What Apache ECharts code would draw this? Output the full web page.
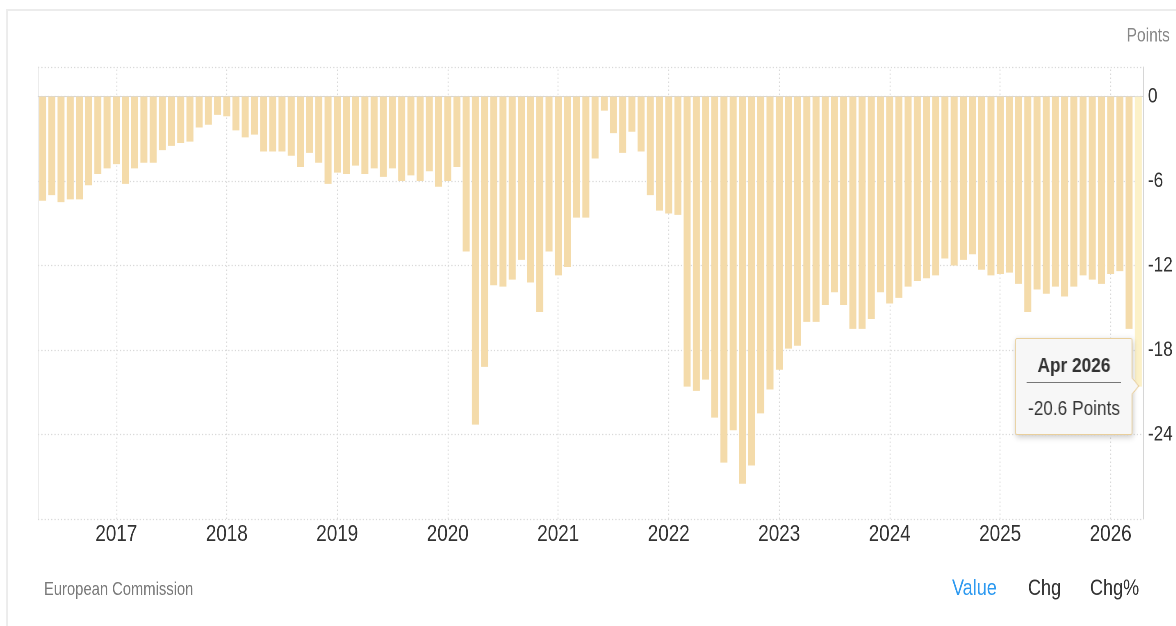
<!DOCTYPE html>
<html>
<head>
<meta charset="utf-8">
<script src="https://cdn.jsdelivr.net/npm/echarts@6/dist/echarts.min.js"></script>
<style>
html,body{margin:0;padding:0;background:#fff;overflow:hidden;width:1176px;height:626px;}
#wrap{width:1176px;height:626px;overflow:hidden;position:relative;}
#chart{position:absolute;left:0;top:0;height:626px;transform-origin:0 0;}
</style>
</head>
<body>
<div id="wrap"><div id="chart"></div></div>
<script>
// ---- data ----
const startYear = 2016;
const startMonth = 5; // May 2016
const values = [
  -7.4, -7.0, -7.5, -7.3, -7.3, -6.3, -5.5, -5.1,
  -4.8, -6.2, -5.1, -4.7, -4.7, -3.8, -3.5, -3.3, -3.2, -2.2, -2.0, -1.3,
  -1.4, -2.4, -2.9, -2.7, -3.9, -3.9, -3.9, -4.2, -5.0, -4.0, -4.7, -6.2,
  -5.4, -5.5, -4.9, -5.5, -5.1, -5.7, -5.1, -6.0, -5.6, -6.0, -5.3, -6.4,
  -6.0, -5.0, -11.0, -23.3, -19.2, -13.4, -13.5, -13.0, -11.6, -13.2, -15.3, -11.0,
  -12.7, -12.1, -8.6, -8.6, -4.4, -1.0, -2.6, -4.0, -2.5, -3.9, -7.0, -8.1,
  -8.3, -8.4, -20.6, -20.9, -20.1, -22.8, -26.0, -23.7, -27.5, -26.2, -22.5, -20.8,
  -19.4, -17.9, -17.7, -16.0, -16.0, -14.8, -13.9, -14.8, -16.5, -16.5, -15.8, -13.9,
  -14.7, -14.3, -13.5, -13.1, -12.9, -12.7, -11.5, -12.0, -11.6, -11.2, -12.3, -12.7,
  -12.6, -12.5, -13.3, -15.3, -13.7, -14.0, -13.5, -14.2, -13.5, -12.7, -13.0, -13.3,
  -12.6, -12.4, -16.5, -20.6
];
const monthNames = ['Jan','Feb','Mar','Apr','May','Jun','Jul','Aug','Sep','Oct','Nov','Dec'];
const yearTicks = ['2017','2018','2019','2020','2021','2022','2023','2024','2025','2026'];
const yTicks = [0, -6, -12, -18, -24];
const unit = 'Points';
const source = 'European Commission';
const tabs = ['Value', 'Chg', 'Chg%'];

const categories = [];
for (let i = 0; i < values.length; i++) {
  const m0 = startMonth - 1 + i;
  const y = startYear + Math.floor(m0 / 12);
  const m = (m0 % 12) + 1;
  categories.push(y + '-' + (m < 10 ? '0' + m : m));
}
const catLabel = c => monthNames[parseInt(c.slice(5), 10) - 1] + ' ' + c.slice(0, 4);

// the reference uses a condensed face: emulate by horizontal compression of the whole chart
const S = 0.82;
const W = 1176 / S;
const hx = x => x / S;

const el = document.getElementById('chart');
el.style.width = W + 'px';
el.style.transform = 'scaleX(' + S + ')';

const FONT = "'Liberation Sans',Arial,Helvetica,sans-serif";
const BAR = '#f4dbaa';
const BAR_HI = '#fcf1c8';
const GRID = '#d9d9d9';
const lastIdx = values.length - 1;

const chart = echarts.init(el, null, { devicePixelRatio: 2 });

const seriesData = values.map((v, i) => i === lastIdx ? { value: v, itemStyle: { color: BAR_HI } } : v);

const option = {
  animation: false,
  textStyle: { fontFamily: FONT },
  grid: { left: hx(38), right: hx(33), top: 67, bottom: 107, containLabel: false, outerBoundsMode: 'none' },
  xAxis: {
    type: 'category',
    data: categories,
    boundaryGap: true,
    axisLine: { show: true, lineStyle: { color: '#d6d6d6', width: 1 } },
    axisTick: { show: false },
    splitLine: { show: false },
    axisLabel: {
      interval: (idx, val) => val.slice(5) === '01' && yearTicks.indexOf(val.slice(0, 4)) >= 0,
      formatter: v => v.slice(0, 4),
      color: '#333',
      fontSize: 23,
      fontFamily: FONT,
      margin: 4
    }
  },
  yAxis: [
    {
      type: 'value',
      position: 'right',
      min: -30,
      max: 2.1,
      interval: 6,
      axisLine: { show: true, lineStyle: { color: '#d6d6d6' } },
      axisTick: { show: false },
      splitLine: { show: true, lineStyle: { color: GRID, type: [1.5, 2.5], width: 1.2 } },
      axisLabel: {
        showMinLabel: false,
        showMaxLabel: false,
        formatter: v => (yTicks.indexOf(v) >= 0 ? String(v) : ''),
        color: '#333',
        fontSize: 21,
        fontFamily: FONT,
        margin: hx(5)
      }
    },
    {
      type: 'value',
      position: 'left',
      min: -30,
      max: 2.1,
      interval: 6,
      axisLine: { show: true, lineStyle: { color: '#e0e0e0' } },
      axisTick: { show: false },
      axisLabel: { show: false },
      splitLine: { show: false }
    }
  ],
  tooltip: {
    trigger: 'item',
    triggerOn: 'none',
    alwaysShowContent: true,
    transitionDuration: 0,
    confine: false,
    backgroundColor: '#f7f7f7',
    borderColor: '#e9cf9c',
    borderWidth: 1,
    padding: 0,
    extraCssText: 'box-shadow:1px 2px 6px rgba(0,0,0,0.22);border-radius:2px;',
    position: function (point, params, dom, rect, size) {
      const p = chart.convertToPixel({ seriesIndex: 0 }, [params.dataIndex, params.value]);
      return [p[0] - hx(6) - size.contentSize[0], p[1] - size.contentSize[1] / 2];
    },
    formatter: function (params) {
      return '<div style="position:relative;width:' + hx(116) + 'px;height:95px;font-family:Liberation Sans,Arial,sans-serif;color:#333;">' +
        '<div style="text-align:center;font-weight:bold;font-size:21px;line-height:22px;padding-top:15px;">' + catLabel(params.name) + '</div>' +
        '<div style="margin:6px ' + hx(11) + 'px 0 ' + hx(11) + 'px;border-top:1px solid #777;height:0;"></div>' +
        '<div style="text-align:center;font-size:21px;line-height:22px;margin-top:14px;">' + params.value.toFixed(1) + ' ' + unit + '</div>' +
        '<div style="position:absolute;right:-7px;top:41px;width:11px;height:11px;background:#f7f7f7;border-top:1px solid #e9cf9c;border-right:1px solid #e9cf9c;transform:rotate(45deg);"></div>' +
        '</div>';
    }
  },
  series: [
    {
      type: 'bar',
      data: seriesData,
      yAxisIndex: 0,
      barCategoryGap: '24%',
      itemStyle: { color: BAR },
      emphasis: { disabled: true },
      markLine: {
        silent: true,
        z: 1,
        symbol: ['none', 'none'],
        label: { show: false },
        lineStyle: { color: GRID, type: [1.5, 2.5], width: 1.2 },
        data: yearTicks.map(y => ({ xAxis: y + '-01' }))
      }
    }
  ],
  graphic: [
    {
      type: 'rect',
      silent: true,
      z: -10,
      shape: { x: hx(7), y: 10, width: W + 100, height: 640 },
      style: { fill: 'none', stroke: '#ececec', lineWidth: 2 }
    },
    {
      type: 'text', right: hx(6), top: 27,
      style: { text: unit, fill: '#888', font: '19px ' + FONT }
    },
    {
      type: 'text', left: hx(44), top: 581,
      style: { text: source, fill: '#7a7a7a', font: '18px ' + FONT }
    },
    {
      type: 'text', left: hx(952), top: 578,
      style: { text: tabs[0], fill: '#2e9af0', font: '22px ' + FONT }
    },
    {
      type: 'text', left: hx(1028), top: 578,
      style: { text: tabs[1], fill: '#333', font: '22px ' + FONT }
    },
    {
      type: 'text', left: hx(1090), top: 578,
      style: { text: tabs[2], fill: '#333', font: '22px ' + FONT }
    }
  ]
};

chart.setOption(option);
chart.dispatchAction({ type: 'showTip', seriesIndex: 0, dataIndex: lastIdx });
</script>
</body>
</html>
